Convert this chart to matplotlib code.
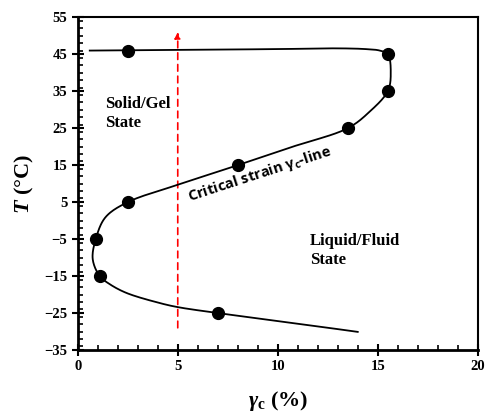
import matplotlib
matplotlib.use("Agg")
import numpy as np
import matplotlib.pyplot as plt
from matplotlib.ticker import MultipleLocator

# measured points
gamma_pts = [2.5, 15.5, 15.5, 13.5, 8.0, 2.5, 0.9, 1.1, 7.0]
temp_pts = [46, 45, 35, 25, 15, 5, -5, -15, -25]

# critical strain curve knots
curve_x = [0.6, 5, 10, 13, 14.4, 15.1, 15.5, 15.65, 15.5, 14.6, 13.5, 10.75, 8, 5, 2.5,
           1.4, 0.9, 0.75, 1.1, 1.6, 2.45, 4.1, 5, 7, 10.5, 14]
curve_y = [46.0, 46.2, 46.4, 46.6, 46.4, 46.0, 45, 40, 35, 29.5, 25, 20, 15, 9.7, 5,
           1, -5, -10.5, -15, -17.2, -19.6, -22.3, -23.4, -25, -27.5, -30.1]

arrow_x = 5
arrow_y0, arrow_y1 = -29, 51


def smooth(xs, ys, xscale=20.0, yscale=90.0, n=20):
    """Centripetal Catmull-Rom rendering of a smoothed line through knots."""
    P = np.column_stack([np.asarray(xs) / xscale, np.asarray(ys) / yscale])
    P = np.vstack([2 * P[0] - P[1], P, 2 * P[-1] - P[-2]])
    out = []
    for i in range(1, len(P) - 2):
        p0, p1, p2, p3 = P[i - 1], P[i], P[i + 1], P[i + 2]
        t0 = 0.0
        t1 = t0 + np.linalg.norm(p1 - p0) ** 0.5
        t2 = t1 + np.linalg.norm(p2 - p1) ** 0.5
        t3 = t2 + np.linalg.norm(p3 - p2) ** 0.5
        t = np.linspace(t1, t2, n)[:, None]
        a1 = (t1 - t) / (t1 - t0) * p0 + (t - t0) / (t1 - t0) * p1
        a2 = (t2 - t) / (t2 - t1) * p1 + (t - t1) / (t2 - t1) * p2
        a3 = (t3 - t) / (t3 - t2) * p2 + (t - t2) / (t3 - t2) * p3
        b1 = (t2 - t) / (t2 - t0) * a1 + (t - t0) / (t2 - t0) * a2
        b2 = (t3 - t) / (t3 - t1) * a2 + (t - t1) / (t3 - t1) * a3
        c = (t2 - t) / (t2 - t1) * b1 + (t - t1) / (t2 - t1) * b2
        out.append(c)
    out = np.vstack(out)
    return out[:, 0] * xscale, out[:, 1] * yscale


plt.rcParams['mathtext.fontset'] = 'custom'
plt.rcParams['mathtext.it'] = 'Liberation Serif:bold:italic'
plt.rcParams['mathtext.rm'] = 'Liberation Serif:bold'
plt.rcParams['mathtext.bf'] = 'Liberation Serif:bold'

fig = plt.figure(figsize=(4.86, 4.12), dpi=100)
ax = fig.add_axes([0.16, 0.1505, 0.823, 0.8075])

sx, sy = smooth(curve_x, curve_y)
ax.plot(sx, sy, color='black', lw=1.3, zorder=2)
ax.plot(gamma_pts, temp_pts, 'o', color='black', ms=8.5, zorder=3)

ax.annotate('', xy=(arrow_x, arrow_y1), xytext=(arrow_x, arrow_y0),
            arrowprops=dict(arrowstyle='-|>', color='red', lw=1.2, ls=(0, (4, 3)),
                            mutation_scale=9, shrinkA=0, shrinkB=0), zorder=1)

ax.set_xlim(0, 20)
ax.set_ylim(-35, 55)
ax.xaxis.set_major_locator(MultipleLocator(5))
ax.xaxis.set_minor_locator(MultipleLocator(1))
ax.yaxis.set_minor_locator(MultipleLocator(2))
ax.set_yticks(range(-35, 56, 10))

ax.tick_params(which='major', direction='inout', length=8, width=1.5)
ax.tick_params(which='minor', direction='in', length=3.5, width=1.2)
for lab in ax.get_xticklabels() + ax.get_yticklabels():
    lab.set_fontfamily('Liberation Serif')
    lab.set_fontweight('bold')
    lab.set_fontsize(10.5)
for s in ax.spines.values():
    s.set_linewidth(1.5)
ax.spines['bottom'].set_linewidth(2)
ax.spines['left'].set_linewidth(2)

ax.set_xlabel(r'$\mathit{\gamma}_{\mathrm{c}}$ (%)', fontfamily='Liberation Serif',
              fontweight='bold', fontsize=16, labelpad=11)
ax.set_ylabel(r'$\mathit{T}$ (°C)', fontfamily='Liberation Serif',
              fontweight='bold', fontsize=16, labelpad=6)

ax.text(1.35, 33.8, 'Solid/Gel\nState', fontfamily='Liberation Serif', fontweight='bold',
        fontsize=12, ha='left', va='top', linespacing=1.25)
ax.text(11.6, -3.3, 'Liquid/Fluid\nState', fontfamily='Liberation Serif', fontweight='bold',
        fontsize=12, ha='left', va='top', linespacing=1.25)
ax.text(5.6, 5.2, r'Critical strain $\mathregular{\gamma_c}$-line', fontfamily='Open Sans',
        fontweight='bold', fontsize=10.5, rotation=18, rotation_mode='anchor',
        ha='left', va='baseline')

fig.savefig('out.png', dpi=100)
